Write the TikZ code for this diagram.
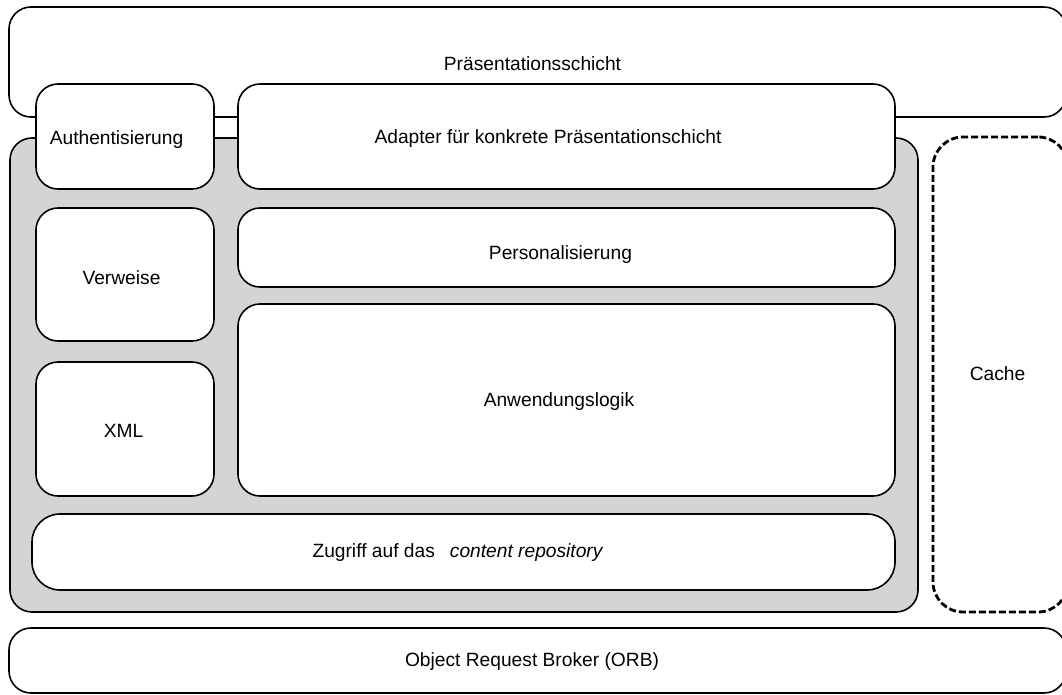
\documentclass[tikz,border=0pt]{standalone}
\usepackage{fontspec}
\setmainfont{Liberation Sans}
\definecolor{panelgray}{RGB}{212,212,212}
\begin{document}
\begin{tikzpicture}[x=1pt,y=-1pt,
  font=\fontsize{19.2}{23}\selectfont,
  layer/.style={draw=black, line width=1.6pt, fill=white, rounded corners=22pt,
    inner sep=0pt},
  cachebox/.style={draw=black, line width=2.8pt, fill=white, rounded corners=30pt,
    dash pattern=on 7pt off 3pt, inner sep=0pt},
  caption/.style={inner sep=0pt, anchor=base}]
\useasboundingbox (0,0) rectangle (1062,695);

% outer layers
\node[layer, minimum width=1057pt, minimum height=110pt] (praes) at (537.5,62) {};
\node[caption] (praestext) at (532.5,71) {Präsentationsschicht};

\node[layer, fill=panelgray, minimum width=908pt, minimum height=474pt] (core) at (464,375) {};

\node[cachebox, minimum width=135pt, minimum height=475pt] (cache) at (1000.5,374.5) {};
\node[caption] (cachetext) at (997.5,380) {Cache};

\node[layer, minimum width=1057pt, minimum height=65pt] (orb) at (537.5,660.5) {};
\node[caption] (orbtext) at (532,666) {Object Request Broker (ORB)};

% inner modules
\node[layer, minimum width=178pt, minimum height=105pt] (auth) at (125,136.5) {};
\node[caption] (authtext) at (116.5,145) {Authentisierung};

\node[layer, minimum width=657pt, minimum height=105pt] (adapter) at (566.5,136.5) {};
\node[caption] (adaptertext) at (548,144) {Adapter für konkrete Präsentationschicht};

\node[layer, minimum width=178pt, minimum height=133pt] (verweise) at (125,274.5) {};
\node[caption] (verweisetext) at (121.5,284) {Verweise};

\node[layer, minimum width=178pt, minimum height=134pt] (xml) at (125,429) {};
\node[caption] (xmltext) at (123.5,437.5) {XML};

\node[layer, minimum width=657pt, minimum height=79pt] (perso) at (566.5,247.5) {};
\node[caption] (persotext) at (560.5,259) {Personalisierung};

\node[layer, minimum width=657pt, minimum height=192pt] (logik) at (566.5,400) {};
\node[caption] (logiktext) at (559,406.5) {Anwendungslogik};

\node[layer, rounded corners=28pt, minimum width=863pt, minimum height=76pt] (zugriff) at (463.5,552) {};
\node[caption] (zugrifftext) at (458,557)
  {Zugriff auf das\hspace{15pt}\textit{content repository}};
\end{tikzpicture}
\end{document}
